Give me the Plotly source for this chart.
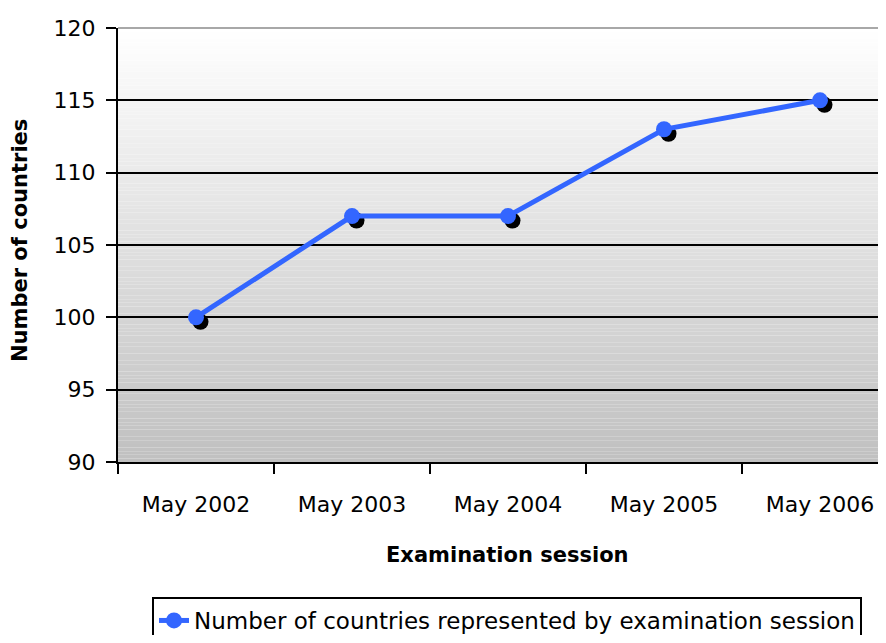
import plotly.graph_objects as go

# ---- data ----
sessions = ["May 2002", "May 2003", "May 2004", "May 2005", "May 2006"]
countries = [100, 107, 107, 113, 115]
series_name = "Number of countries represented by examination session"
y_ticks = [90, 95, 100, 105, 110, 115, 120]
x_title = "Examination session"
y_title = "Number of countries"

# ---- layout geometry / style ----
OFF = 8                      # page body margin
W, H = 886 - OFF, 643 - 2 * OFF
PL, PT, PB = 118, 28, 462    # plot-area edges on the page
ML, MT = PL - OFF, PT - OFF
plot_w = W - ML
plot_h = PB - PT
MB = H - MT - plot_h
cat_px = 156.0
x_range = [-0.5, -0.5 + plot_w / cat_px]
y_range = [90, 120]
shadow_px = 4.5
dx = shadow_px / cat_px
dy = shadow_px * (y_range[1] - y_range[0]) / plot_h
BLUE = "rgb(51,102,255)"
FONT = "DejaVu Sans"


def px(xp):
    return (xp - PL) / plot_w


def py(yp):
    return (PB - yp) / plot_h


fig = go.Figure()

# shadow markers (drawn on hidden axes shifted by a few pixels)
fig.add_trace(go.Scatter(
    x=sessions, y=countries, mode="markers",
    marker=dict(color="black", size=16),
    xaxis="x", yaxis="y", showlegend=False, hoverinfo="skip"))

# main series
fig.add_trace(go.Scatter(
    x=sessions, y=countries, mode="lines+markers",
    line=dict(color=BLUE, width=5),
    marker=dict(color=BLUE, size=16),
    name=series_name, xaxis="x2", yaxis="y2"))

# gradient background strips (below grid)
N = 120
shapes = []
for i in range(N):
    g = round(192 + 63 * (i + 0.5) / N)
    shapes.append(dict(type="rect", xref="x domain", yref="y domain",
                       x0=0, x1=1, y0=i / N, y1=(i + 1) / N,
                       fillcolor=f"rgb({g},{g},{g})", line=dict(width=0),
                       layer="below"))
shapes.append(dict(type="line", xref="x domain", yref="y domain",
                   x0=0, x1=1, y0=1, y1=1,
                   line=dict(color="#a8a8a8", width=2), layer="above"))

fig.update_layout(
    width=W, height=H,
    margin=dict(l=ML, r=0, t=MT, b=MB, pad=0, autoexpand=False),
    paper_bgcolor="white", plot_bgcolor="white",
    font=dict(family=FONT, size=22, color="black"),
    shapes=shapes,
    xaxis=dict(type="category", categoryorder="array", categoryarray=sessions,
               range=[x_range[0] - dx, x_range[1] - dx], visible=False),
    yaxis=dict(range=[y_range[0] + dy, y_range[1] + dy], visible=False),
    xaxis2=dict(type="category", categoryorder="array", categoryarray=sessions,
                overlaying="x", anchor="y2", side="bottom",
                range=x_range, tickson="boundaries",
                ticks="outside", ticklen=10, tickwidth=2, tickcolor="black",
                showline=True, linecolor="black", linewidth=2,
                showgrid=False, ticklabelstandoff=22,
                tickfont=dict(family=FONT, size=22, color="black")),
    yaxis2=dict(overlaying="y", anchor="x2", side="left",
                range=y_range, tickmode="array", tickvals=y_ticks,
                ticks="outside", ticklen=10, tickwidth=2, tickcolor="black",
                showline=True, linecolor="black", linewidth=2,
                showgrid=True, gridcolor="black", gridwidth=2,
                zeroline=False, ticklabelstandoff=6,
                tickfont=dict(family=FONT, size=22, color="black")),
    legend=dict(x=px(152), y=py(597),
                xanchor="left", yanchor="top",
                bordercolor="black", borderwidth=2, bgcolor="white",
                font=dict(family=FONT, size=23, color="black")),
    showlegend=True,
    annotations=[
        dict(text=f"<b>{x_title}</b>", xref="paper", yref="paper",
             x=px(507.5), y=py(555),
             xanchor="center", yanchor="middle", showarrow=False,
             font=dict(family=FONT, size=21, color="black")),
        dict(text=f"<b>{y_title}</b>", xref="paper", yref="paper",
             x=px(20), y=py(241),
             xanchor="center", yanchor="middle", textangle=-90,
             showarrow=False,
             font=dict(family=FONT, size=21, color="black")),
    ],
)

fig.write_html("out.html")
